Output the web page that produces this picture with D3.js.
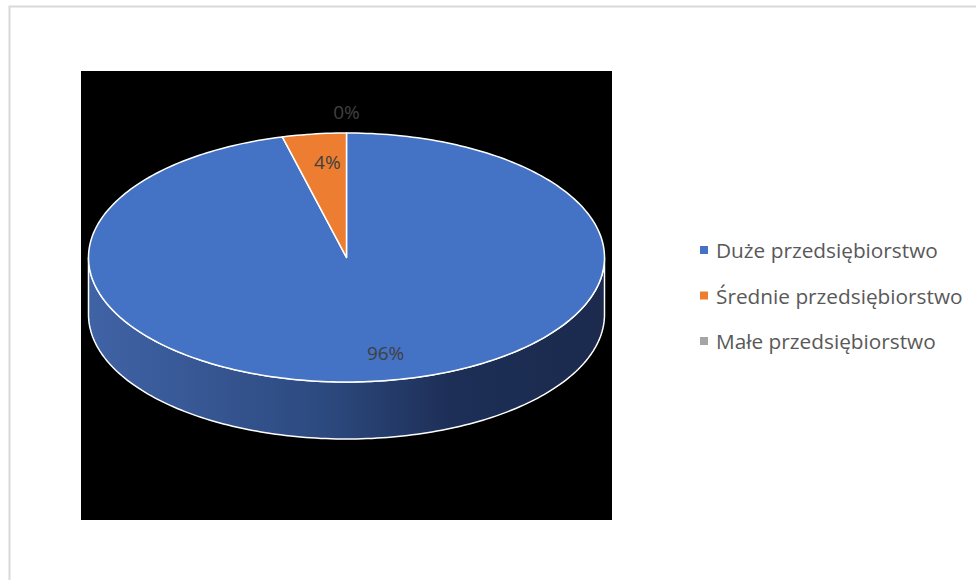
<!DOCTYPE html>
<html>
<head>
<meta charset="utf-8">
<script src="https://cdn.jsdelivr.net/npm/d3@7"></script>
<style>
  body { margin: 0; background: #fff; }
  text { font-family: "Open Sans", "Noto Sans", sans-serif; }
</style>
</head>
<body>
<div id="chart"></div>
<script>
// Chart data
var categories = ["Duże przedsiębiorstwo", "Średnie przedsiębiorstwo", "Małe przedsiębiorstwo"];
var shares = [96, 4, 0];
var colors = ["#4472c4", "#ed7d31", "#a5a5a5"];

var svgWidth = 976;
var svgHeight = 580;

var svg = d3.select("#chart")
    .append("svg")
    .attr("width", svgWidth)
    .attr("height", svgHeight);

// outer chart border
svg.append("rect")
    .attr("x", 9.5)
    .attr("y", 6.5)
    .attr("width", 1000)
    .attr("height", 600)
    .attr("fill", "#fff")
    .attr("stroke", "#d9d9d9")
    .attr("stroke-width", 2);

// plot area (black)
svg.append("rect")
    .attr("x", 81)
    .attr("y", 71)
    .attr("width", 531)
    .attr("height", 449)
    .attr("fill", "#000");

// pie geometry (ellipse seen from above at an angle)
var cx = 346.5, cy = 257.5, rx = 258, ry = 124.5, depth = 57;

var data = categories.map(function (c, i) { return { name: c, value: shares[i] }; });

var color = d3.scaleOrdinal().domain(categories).range(colors);

var pie = d3.pie()
    .value(function (d) { return d.value; })
    .sort(null);

var arcs = pie(data);

// point on the ellipse for a pie angle (0 = top, clockwise)
function pt(a, dy) {
    return [cx + rx * Math.sin(a), cy - ry * Math.cos(a) + (dy || 0)];
}

function ellipseArc(a0, a1, dy) {
    var pts = [];
    var n = Math.max(2, Math.ceil(Math.abs(a1 - a0) / 0.02));
    for (var i = 0; i <= n; i++) {
        pts.push(pt(a0 + (a1 - a0) * i / n, dy));
    }
    return pts;
}

var line = d3.line();

// side gradient
var defs = svg.append("defs");
var grad = defs.append("linearGradient")
    .attr("id", "sideBlue")
    .attr("gradientUnits", "userSpaceOnUse")
    .attr("x1", cx - rx).attr("x2", cx + rx)
    .attr("y1", 0).attr("y2", 0);
grad.append("stop").attr("offset", "0").attr("stop-color", "#4063a6");
grad.append("stop").attr("offset", "0.45").attr("stop-color", "#2d4a80");
grad.append("stop").attr("offset", "0.7").attr("stop-color", "#1d2f57");
grad.append("stop").attr("offset", "1").attr("stop-color", "#1b2a4d");

var pieGroup = svg.append("g");

// sides: only the front half (angles PI/2 .. 3PI/2) is visible
arcs.forEach(function (d) {
    var a0 = Math.max(d.startAngle, Math.PI / 2);
    var a1 = Math.min(d.endAngle, 3 * Math.PI / 2);
    if (a1 <= a0) return;
    var top = ellipseArc(a0, a1, 0);
    var bottom = ellipseArc(a1, a0, depth);
    pieGroup.append("path")
        .attr("d", line(top.concat(bottom)) + "Z")
        .attr("fill", d.index === 0 ? "url(#sideBlue)" : d3.color(color(d.data.name)).darker(1.2))
        .attr("stroke", "#fff")
        .attr("stroke-width", 1.5)
        .attr("stroke-linejoin", "round");
});

// top faces
arcs.forEach(function (d) {
    if (d.endAngle - d.startAngle <= 0) return;
    var pts = [[cx, cy]].concat(ellipseArc(d.startAngle, d.endAngle, 0));
    pieGroup.append("path")
        .attr("d", line(pts) + "Z")
        .attr("fill", color(d.data.name))
        .attr("stroke", "#fff")
        .attr("stroke-width", 1.5)
        .attr("stroke-linejoin", "round");
});

// data labels (empty slices get their label outside the pie)
arcs.forEach(function (d) {
    var mid = (d.startAngle + d.endAngle) / 2;
    var outside = d.value === 0;
    var p = outside
        ? [cx + rx * Math.sin(mid), cy - ry * Math.cos(mid) * 1.17]
        : [cx + rx * Math.sin(mid) * 0.9 + 10, cy - ry * Math.cos(mid) * 0.77];
    svg.append("text")
        .attr("x", p[0])
        .attr("y", p[1])
        .attr("text-anchor", "middle")
        .attr("dominant-baseline", "central")
        .attr("font-size", 19)
        .attr("fill", "#404040")
        .text(d.value + "%");
});

// legend
var legend = svg.append("g").attr("transform", "translate(700, 250)");
var rows = legend.selectAll("g")
    .data(categories)
    .enter()
    .append("g")
    .attr("transform", function (d, i) { return "translate(0," + (i * 45.5) + ")"; });

rows.append("rect")
    .attr("x", 0)
    .attr("y", -4)
    .attr("width", 8)
    .attr("height", 8)
    .attr("fill", function (d) { return color(d); });

rows.append("text")
    .attr("x", 16)
    .attr("y", 0)
    .attr("dominant-baseline", "central")
    .attr("font-size", 20.8)
    .attr("fill", "#595959")
    .text(function (d) { return d; });
</script>
</body>
</html>
